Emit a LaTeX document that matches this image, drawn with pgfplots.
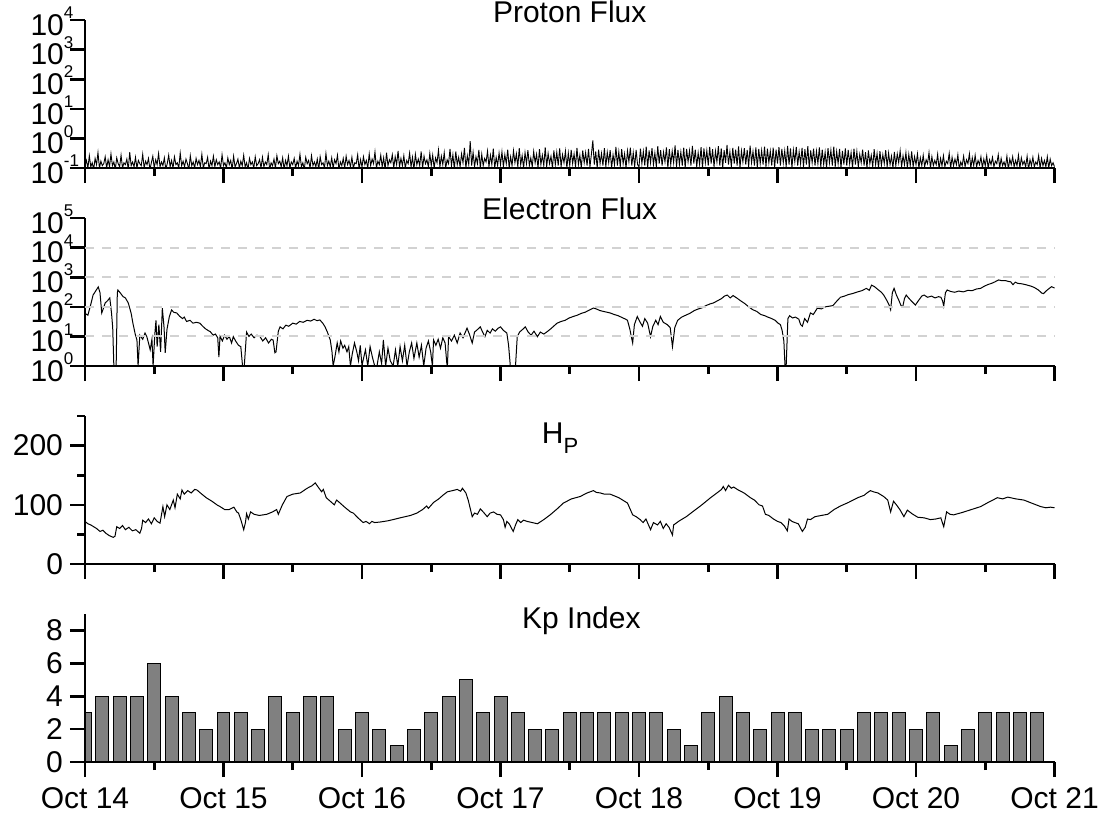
\documentclass[border=0pt]{standalone}
\usepackage{fontspec}
\setmainfont{Liberation Sans}
\usepackage{pgfplots}
\pgfplotsset{compat=1.18}
\usepackage{pgfplotstable}

\newcommand{\fs}{\fontsize{15}{18}\selectfont}
\newcommand{\tp}[1]{{\fs 10\rlap{\smash{\raisebox{8.3pt}{\fontsize{8.5}{10}\selectfont #1}}}}}

\pgfplotsset{
  panel/.style={
    scale only axis,
    width=484.75pt, height=74pt,
    anchor=south west,
    xmin=0, xmax=168,
    axis lines*=left,
    axis line style={-, line width=1.3pt, black},
    tick align=outside,
    major tick length=7.5pt,
    minor tick length=0pt,
    tick style={line width=1.3pt, black},
    xtick={0,24,...,168},
    xticklabels={},
    extra x ticks={12,36,60,84,108,132,156},
    extra x tick labels={},
    extra x tick style={major tick length=4pt},
    tick label style={font=\fs},
    xticklabel style={yshift=-1.5pt},
    /pgf/number format/assume math mode=true,
    axis on top=true,
    clip mode=individual,
  },
  logpanel/.style={panel, yticklabel style={xshift=0.5pt, yshift=-2.5pt}},
}

\pgfplotstableread[row sep=\\]{
y\\
0.12\\0.18\\0.10\\0.26\\0.11\\0.15\\0.09\\0.21\\0.13\\0.33\\0.10\\0.17\\0.12\\0.14\\0.24\\0.10\\0.19\\0.11\\0.30\\0.12\\0.16\\0.09\\0.22\\0.14\\
0.11\\0.27\\0.10\\0.15\\0.13\\0.20\\0.09\\0.34\\0.12\\0.16\\0.11\\0.23\\0.10\\0.18\\0.14\\0.12\\0.29\\0.10\\0.17\\0.13\\0.21\\0.09\\0.15\\0.25\\
0.10\\0.19\\0.13\\0.31\\0.11\\0.16\\0.12\\0.22\\0.09\\0.14\\0.27\\0.11\\0.18\\0.10\\0.24\\0.13\\0.15\\0.10\\0.32\\0.12\\0.17\\0.11\\0.20\\0.14\\
0.09\\0.26\\0.12\\0.16\\0.10\\0.21\\0.13\\0.18\\0.11\\0.29\\0.10\\0.15\\0.14\\0.23\\0.09\\0.17\\0.12\\0.25\\0.11\\0.19\\0.13\\0.16\\0.10\\0.28\\
0.12\\0.15\\0.10\\0.22\\0.13\\0.18\\0.09\\0.25\\0.11\\0.14\\0.20\\0.10\\0.17\\0.12\\0.27\\0.11\\0.15\\0.09\\0.21\\0.13\\0.16\\0.10\\0.24\\0.12\\
0.14\\0.19\\0.10\\0.23\\0.11\\0.16\\0.13\\0.28\\0.09\\0.15\\0.12\\0.20\\0.10\\0.26\\0.14\\0.17\\0.11\\0.22\\0.09\\0.18\\0.12\\0.25\\0.10\\0.16\\
0.13\\0.21\\0.10\\0.17\\0.12\\0.29\\0.11\\0.15\\0.09\\0.23\\0.14\\0.18\\0.10\\0.26\\0.12\\0.16\\0.11\\0.20\\0.09\\0.24\\0.13\\0.15\\0.10\\0.31\\
0.12\\0.17\\0.11\\0.22\\0.10\\0.19\\0.14\\0.27\\0.09\\0.16\\0.12\\0.21\\0.10\\0.25\\0.13\\0.18\\0.11\\0.23\\0.10\\0.15\\0.14\\0.28\\0.09\\0.19\\
0.11\\0.24\\0.13\\0.18\\0.10\\0.30\\0.12\\0.20\\0.14\\0.35\\0.10\\0.17\\0.13\\0.27\\0.11\\0.22\\0.09\\0.33\\0.12\\0.19\\0.15\\0.28\\0.10\\0.24\\
0.13\\0.38\\0.11\\0.21\\0.12\\0.26\\0.10\\0.18\\0.14\\0.32\\0.11\\0.23\\0.09\\0.29\\0.13\\0.20\\0.12\\0.36\\0.10\\0.25\\0.14\\0.19\\0.11\\0.31\\
0.12\\0.27\\0.10\\0.22\\0.15\\0.40\\0.11\\0.25\\0.13\\0.33\\0.10\\0.19\\0.14\\0.44\\0.12\\0.28\\0.09\\0.36\\0.13\\0.23\\0.11\\0.30\\0.15\\0.48\\
0.10\\0.26\\0.13\\0.80\\0.12\\0.34\\0.11\\0.24\\0.14\\0.41\\0.10\\0.29\\0.12\\0.21\\0.16\\0.37\\0.11\\0.27\\0.13\\0.45\\0.10\\0.23\\0.12\\0.32\\
0.13\\0.35\\0.11\\0.28\\0.14\\0.42\\0.10\\0.24\\0.12\\0.38\\0.15\\0.30\\0.11\\0.47\\0.13\\0.26\\0.10\\0.33\\0.14\\0.40\\0.12\\0.22\\0.11\\0.36\\
0.15\\0.29\\0.10\\0.43\\0.13\\0.27\\0.12\\0.50\\0.11\\0.31\\0.14\\0.25\\0.10\\0.39\\0.13\\0.34\\0.12\\0.46\\0.11\\0.28\\0.15\\0.37\\0.10\\0.32\\
0.12\\0.41\\0.14\\0.30\\0.11\\0.48\\0.13\\0.27\\0.10\\0.39\\0.15\\0.33\\0.12\\0.44\\0.11\\0.29\\0.85\\0.13\\0.36\\0.10\\0.42\\0.14\\0.31\\0.12\\
0.47\\0.11\\0.34\\0.15\\0.40\\0.10\\0.28\\0.13\\0.52\\0.12\\0.35\\0.11\\0.43\\0.14\\0.30\\0.10\\0.38\\0.16\\0.49\\0.12\\0.33\\0.11\\0.41\\0.13\\
0.11\\0.45\\0.14\\0.36\\0.12\\0.53\\0.10\\0.39\\0.15\\0.47\\0.13\\0.32\\0.11\\0.55\\0.14\\0.40\\0.12\\0.34\\0.16\\0.50\\0.10\\0.43\\0.13\\0.37\\
0.15\\0.58\\0.11\\0.41\\0.13\\0.35\\0.12\\0.49\\0.10\\0.44\\0.16\\0.38\\0.12\\0.56\\0.14\\0.42\\0.11\\0.33\\0.13\\0.51\\0.10\\0.46\\0.15\\0.39\\
0.12\\0.52\\0.14\\0.43\\0.11\\0.37\\0.16\\0.55\\0.12\\0.46\\0.10\\0.40\\0.15\\0.60\\0.13\\0.35\\0.11\\0.48\\0.14\\0.42\\0.12\\0.54\\0.10\\0.38\\
0.16\\0.47\\0.13\\0.41\\0.11\\0.57\\0.15\\0.36\\0.12\\0.50\\0.10\\0.44\\0.14\\0.39\\0.13\\0.53\\0.11\\0.45\\0.15\\0.37\\0.12\\0.49\\0.10\\0.42\\
0.14\\0.51\\0.12\\0.44\\0.15\\0.38\\0.11\\0.56\\0.13\\0.46\\0.10\\0.40\\0.16\\0.52\\0.12\\0.35\\0.14\\0.48\\0.11\\0.43\\0.13\\0.55\\0.10\\0.39\\
0.15\\0.45\\0.12\\0.37\\0.14\\0.50\\0.11\\0.42\\0.13\\0.34\\0.10\\0.47\\0.15\\0.40\\0.12\\0.53\\0.11\\0.36\\0.14\\0.44\\0.10\\0.38\\0.13\\0.46\\
0.12\\0.41\\0.14\\0.33\\0.10\\0.45\\0.13\\0.36\\0.11\\0.29\\0.15\\0.42\\0.12\\0.34\\0.10\\0.39\\0.14\\0.27\\0.11\\0.43\\0.13\\0.31\\0.10\\0.37\\
0.12\\0.28\\0.14\\0.40\\0.11\\0.32\\0.13\\0.25\\0.10\\0.35\\0.12\\0.30\\0.15\\0.38\\0.11\\0.26\\0.13\\0.33\\0.10\\0.29\\0.12\\0.36\\0.11\\0.24\\
0.13\\0.30\\0.10\\0.22\\0.12\\0.27\\0.11\\0.19\\0.14\\0.33\\0.10\\0.24\\0.12\\0.18\\0.13\\0.29\\0.09\\0.21\\0.12\\0.26\\0.11\\0.17\\0.14\\0.31\\
0.10\\0.23\\0.12\\0.20\\0.13\\0.28\\0.09\\0.16\\0.12\\0.25\\0.11\\0.19\\0.14\\0.30\\0.10\\0.22\\0.12\\0.27\\0.11\\0.18\\0.13\\0.24\\0.10\\0.20\\
0.12\\0.26\\0.10\\0.19\\0.13\\0.23\\0.11\\0.17\\0.14\\0.28\\0.10\\0.21\\0.12\\0.16\\0.11\\0.25\\0.09\\0.20\\0.13\\0.24\\0.11\\0.18\\0.12\\0.27\\
0.10\\0.22\\0.13\\0.17\\0.11\\0.25\\0.09\\0.19\\0.12\\0.23\\0.11\\0.16\\0.13\\0.26\\0.10\\0.21\\0.12\\0.18\\0.11\\0.24\\0.10\\0.20\\0.12\\0.15\\
0.11\\
}\protondata

\begin{document}
\begin{tikzpicture}
\path[use as bounding box] (0,0) rectangle (550.5pt,-407pt);

% ---------------- Proton Flux ----------------
\begin{axis}[logpanel, at={(42.5pt,-84pt)},
  ymode=log, ymin=0.1, ymax=10000,
  ytick={0.1,1,10,100,1000,10000},
  yticklabels={\tp{-1},\tp{0},\tp{1},\tp{2},\tp{3},\tp{4}}]
\addplot[black, line width=0.45pt] table[x expr=\coordindex*0.25, y index=0] {\protondata};
\node[font=\fs, anchor=base] at (rel axis cs:0.5,0.986) {Proton Flux};
\end{axis}

% ---------------- Electron Flux ----------------
\begin{axis}[logpanel, at={(42.5pt,-183pt)},
  ymode=log, ymin=1, ymax=100000,
  ytick={1,10,100,1000,10000,100000},
  yticklabels={\tp{0},\tp{1},\tp{2},\tp{3},\tp{4},\tp{5}},
  extra y ticks={10,100,1000,10000},
  extra y tick labels={},
  extra y tick style={major tick length=0pt, grid=major,
     major grid style={gray!35, line width=1pt, dash pattern=on 4.5pt off 4pt}}]
\addplot[black, line width=0.5pt] coordinates {
(0,60)(0.5,52)(1.0,120)(1.4,250)(1.8,330)(2.3,470)(2.6,300)(2.9,62)(3.2,90)(3.5,135)(3.9,160)(4.3,200)(4.6,60)(4.8,20)(5.0,1)(5.4,1)(5.6,300)(5.7,370)(6.2,280)(6.6,220)(7.0,200)(7.5,135)(8.0,60)(8.3,28)(8.7,12)(9.0,7.6)(9.2,1)(9.5,11)(10.0,8)(10.4,13)(10.7,10)(11.0,6)(11.3,3.5)(11.6,8)(11.8,1)(12.1,12)(12.3,35)(12.5,4.5)(12.8,25)(13.1,3)(13.4,90)(13.7,20)(13.9,2.8)(14.2,17)(14.6,45)(15.0,78)(15.4,65)(15.9,62)(16.4,48)(16.9,40)(17.2,45)(17.6,32)(18.2,35)(18.7,28)(19.3,30)(19.9,28)(20.4,22)(20.9,18)(21.3,16)(21.7,14.5)(22.2,11)(22.6,12)(23.0,9)(23.2,2)(23.4,10)(23.8,7)(24.2,11)(24.6,8)(25.0,10)(25.4,6)(25.7,9.8)(26.1,7)(26.6,5)(27.0,4.5)(27.3,1)(27.6,1)(28.0,14)(28.4,10)(28.8,12)(29.3,9)(29.8,11)(30.3,10)(30.8,7)(31.3,9)(31.8,6)(32.3,8)(32.6,7.5)(32.9,2.8)(33.1,3)(33.5,15)(33.8,21)(34.3,18)(34.8,24)(35.3,22)(36.0,28)(36.6,26)(37.2,32)(37.8,30)(38.5,35)(39.1,33)(39.7,38)(40.2,34)(40.7,36)(41.2,28)(41.6,21)(42.0,14)(42.5,7.6)(42.8,3)(43.0,1)(43.3,2)(43.7,6)(44.0,3)(44.3,7)(44.7,4)(45.0,5)(45.4,3)(45.7,4.5)(46.0,1)(46.3,2.5)(46.7,6)(47.1,3)(47.4,1.5)(47.7,5)(48.0,1)(48.2,1.6)(48.6,3.5)(49.0,1)(49.4,4.5)(49.8,2)(50.2,1)(50.6,1)(51.0,3)(51.4,1.2)(51.7,7.6)(52.1,1)(52.5,4)(52.9,1.5)(53.4,1)(53.8,3.5)(54.2,1)(54.6,4.5)(55.0,1.5)(55.4,5)(55.8,1)(56.2,3)(56.6,6)(57.0,1.8)(57.5,6)(57.9,2)(58.3,5)(58.7,1)(59.1,4)(59.5,7)(59.9,3)(60.2,1)(60.4,7.6)(60.8,5)(61.2,8)(61.6,4)(62.0,9)(62.4,6)(62.7,1.2)(62.8,1)(63.0,9.8)(63.5,7)(64.0,11)(64.5,6)(65.0,13)(65.5,9)(66.2,19)(66.6,12)(67.1,6)(67.5,14)(68.0,17)(68.5,21)(68.9,14)(69.3,9.8)(69.7,16)(70.2,13)(70.6,18)(71.1,15)(71.6,19)(72.0,21)(72.5,16)(73.1,13)(73.4,5)(73.7,1)(74.2,1)(74.6,1)(74.9,9.8)(75.3,14)(75.8,17)(76.3,21)(76.8,14)(77.3,11)(77.8,15)(78.4,9.8)(78.9,14)(79.5,12)(80.1,14.5)(80.7,18)(81.2,22)(81.8,28)(82.5,32)(83.2,35)(83.9,42)(84.6,47)(85.3,52)(86.0,60)(86.7,66)(87.4,78)(88.1,91)(88.6,85)(89.2,75)(89.8,70)(90.4,66)(91.0,62)(91.7,55)(92.4,50)(93.1,43)(93.7,38)(94.0,35)(94.4,18)(94.9,6)(95.2,25)(95.7,47)(96.2,30)(96.6,22)(97.0,40)(97.5,28)(98.0,9.8)(98.4,22)(98.9,35)(99.3,25)(99.7,47)(100.2,30)(100.9,25)(101.4,20)(101.8,4.5)(102.2,20)(102.7,35)(103.4,45)(104.1,52)(104.8,60)(105.6,75)(106.3,85)(106.9,92)(107.6,110)(108.3,125)(108.9,135)(109.6,160)(110.3,190)(110.8,230)(111.3,250)(111.8,200)(112.3,240)(113.0,195)(113.6,160)(114.3,130)(115.0,100)(115.7,80)(116.4,70)(117.1,55)(117.8,50)(118.3,45)(119.0,40)(119.6,35)(120.1,28)(120.5,25)(120.8,16)(121.1,7)(121.3,1)(121.5,1)(121.8,40)(122.1,50)(122.6,42)(123.1,45)(123.7,38)(124.0,25)(124.3,22)(124.7,40)(125.2,30)(125.7,62)(126.2,55)(126.9,90)(127.6,85)(128.3,100)(129.0,105)(129.6,110)(130.2,150)(130.9,210)(131.6,230)(132.3,260)(133.0,280)(133.9,320)(134.6,350)(135.4,420)(135.9,360)(136.3,540)(136.8,480)(137.5,370)(138.0,310)(138.4,250)(138.9,170)(139.3,120)(139.6,80)(139.9,300)(140.2,420)(140.6,250)(141.0,170)(141.4,110)(141.7,100)(142.0,190)(142.3,250)(142.7,200)(143.3,150)(143.9,115)(144.4,160)(145.0,230)(145.4,250)(146.0,210)(146.7,230)(147.3,200)(147.9,220)(148.3,210)(148.6,160)(148.8,105)(149.1,300)(149.4,370)(150.0,330)(150.7,310)(151.4,340)(152.2,320)(153.0,360)(153.7,350)(154.5,400)(155.2,420)(155.7,480)(156.4,560)(157.1,620)(157.7,700)(158.3,810)(158.9,760)(159.5,770)(160.0,720)(160.4,700)(160.8,560)(161.2,680)(161.6,620)(162.3,600)(163.0,560)(163.9,500)(164.5,450)(165.2,370)(165.8,290)(166.1,280)(166.6,350)(167.1,420)(167.5,480)(168.0,430)
};
\node[font=\fs, anchor=base] at (rel axis cs:0.5,0.993) {Electron Flux};
\end{axis}

% ---------------- H_P ----------------
\begin{axis}[panel, at={(42.5pt,-282pt)},
  ymin=0, ymax=250,
  ytick={0,100,200},
  extra y ticks={50,150,250},
  extra y tick labels={},
  extra y tick style={major tick length=4pt}]
\addplot[black, line width=0.5pt] coordinates {
(0,72)(0.5,68)(1,66)(1.5,63)(2,60)(2.6,55)(3.1,57)(3.6,52)(4.2,48)(4.9,45)(5.2,47)(5.5,63)(6,60)(6.5,65)(7,58)(7.6,62)(8.2,56)(8.8,58)(9.5,52)(9.8,60)(10,74)(10.5,70)(11,76)(11.5,68)(12,78)(12.5,72)(13,69)(13.5,97)(13.8,80)(14.2,100)(14.7,92)(15.3,108)(15.6,95)(16,118)(16.5,110)(16.8,125)(17.2,118)(17.8,124)(18.4,120)(19,126)(19.4,125)(20,120)(21,112)(22,106)(23,99)(23.4,97)(24.2,92)(25,92)(25.8,96)(26.3,88)(26.6,86)(27,75)(27.5,58)(27.8,70)(28,85)(28.3,76)(28.7,88)(29.3,84)(30.2,82)(31.5,84)(32.5,88)(33.2,92)(33.5,84)(34.2,100)(35,114)(36,118)(37.3,120)(38.5,128)(39.3,132)(39.9,137)(40.4,130)(41,122)(41.3,126)(41.8,112)(42.5,106)(43.2,100)(43.6,108)(44.2,103)(45,96)(46,88)(46.5,86)(47.3,78)(48.2,70)(48.7,72)(49.3,68)(49.7,72)(50.2,70)(51.2,71)(52.5,73)(53.8,76)(54.6,78)(55.5,80)(56.4,82)(57.5,86)(58.5,92)(59.2,98)(59.5,94)(60.4,104)(61.3,110)(62,116)(62.8,122)(63.7,124)(64.5,126)(65.1,123)(65.4,128)(66,120)(66.4,108)(66.8,92)(67.1,80)(67.5,86)(68.0,84)(68.5,93)(69,88)(69.7,80)(70.2,86)(70.8,88)(71.4,84)(72,83)(72.5,75)(72.8,62)(73.1,72)(73.5,68)(74.2,55)(74.6,66)(75,75)(75.5,70)(76,74)(76.6,72)(77.5,70)(78.4,68)(79.5,75)(80.6,83)(81.8,93)(82.9,103)(84.3,110)(85.8,114)(87,120)(88.1,124)(88.6,121)(89.3,120)(90,118)(91,118)(92.5,112)(94,103)(94.5,92)(94.9,83)(95.5,80)(96.2,75)(96.7,70)(97.2,76)(98,58)(98.5,70)(99.2,66)(99.7,72)(100.2,60)(100.7,68)(101.2,62)(101.8,49)(102,66)(103,73)(104.2,80)(105.4,89)(106.9,100)(108.4,112)(109.5,120)(110.3,126)(110.6,131)(111,124)(111.5,133)(112,128)(112.4,130)(113.2,125)(114.2,120)(115.3,112)(116,108)(116.8,100)(117.4,98)(117.9,84)(118.5,82)(119.3,76)(120,72)(120.6,70)(121.2,64)(121.7,56)(122,76)(122.5,72)(123,70)(123.6,68)(124.3,55)(124.8,62)(125.2,76)(125.7,75)(126.5,80)(127.6,82)(128.7,84)(129.8,92)(130.9,98)(132.3,104)(133.9,112)(135,116)(135.5,120)(136.1,124)(136.6,122)(137.4,120)(138.4,114)(139.1,108)(139.6,88)(140.1,106)(140.6,100)(141.2,92)(141.9,80)(142.5,91)(143.3,85)(144.3,79)(145.4,78)(146.5,75)(147.4,76)(148.3,78)(148.8,63)(149.3,88)(149.9,84)(150.5,83)(152,87)(153.6,92)(155.2,97)(156.5,104)(158.1,112)(159,110)(159.9,113)(161.3,110)(162.7,108)(164,103)(164.8,100)(165.6,97)(166.5,95)(167.3,96)(168,95)
};
\node[font=\fs, anchor=base] at (rel axis cs:0.49,0.815) {H\raisebox{-5pt}{\fontsize{11}{13}\selectfont P}};
\end{axis}

% ---------------- Kp Index ----------------
\begin{axis}[panel, at={(42.5pt,-381pt)},
  ymin=0, ymax=9,
  ytick={0,2,4,6,8},
  xticklabels={Oct 14,Oct 15,Oct 16,Oct 17,Oct 18,Oct 19,Oct 20,Oct 21}]
\addplot[ybar, bar width=2.25, fill=black!50, draw=black, line width=0.5pt] coordinates {
(0,3)(3,4)(6,4)(9,4)(12,6)(15,4)(18,3)(21,2)(24,3)(27,3)(30,2)(33,4)(36,3)(39,4)(42,4)(45,2)(48,3)(51,2)(54,1)(57,2)(60,3)(63,4)(66,5)(69,3)(72,4)(75,3)(78,2)(81,2)(84,3)(87,3)(90,3)(93,3)(96,3)(99,3)(102,2)(105,1)(108,3)(111,4)(114,3)(117,2)(120,3)(123,3)(126,2)(129,2)(132,2)(135,3)(138,3)(141,3)(144,2)(147,3)(150,1)(153,2)(156,3)(159,3)(162,3)(165,3)
};
\node[font=\fs, anchor=base] at (rel axis cs:0.512,0.905) {Kp Index};
\end{axis}
\end{tikzpicture}
\end{document}
